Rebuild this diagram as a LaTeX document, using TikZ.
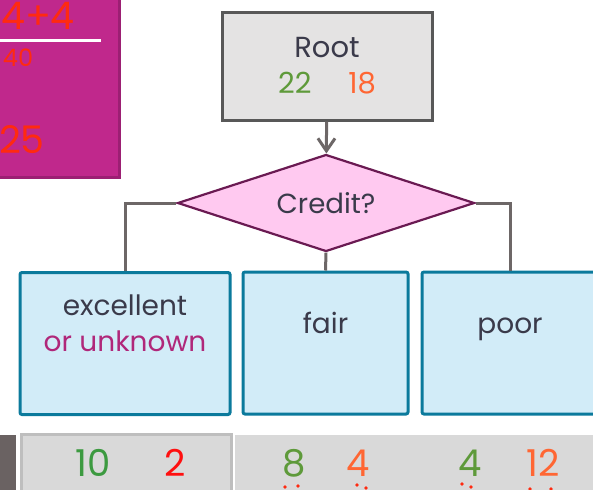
\documentclass[tikz,border=0pt]{standalone}
\usepackage{fontspec}
\setmainfont{Poppins}
\usepackage{xcolor}
\usetikzlibrary{arrows.meta,positioning,shapes.geometric}
\definecolor{NoteMagenta}{HTML}{C0288C}
\definecolor{NoteEdge}{HTML}{9C1F73}
\definecolor{InkRed}{HTML}{FF2A10}
\definecolor{RootFill}{HTML}{E4E3E3}
\definecolor{RootEdge}{HTML}{585858}
\definecolor{WireGray}{HTML}{6D6767}
\definecolor{TestFill}{HTML}{FFC9F0}
\definecolor{TestEdge}{HTML}{6A1A52}
\definecolor{LeafFill}{HTML}{D2ECF8}
\definecolor{LeafEdge}{HTML}{0B7A9C}
\definecolor{TextDark}{HTML}{3A3A4A}
\definecolor{UnkPink}{HTML}{B0277A}
\definecolor{YesGreen}{HTML}{5E9A3A}
\definecolor{NoOrange}{HTML}{FF6633}
\definecolor{CountGreen}{HTML}{3C9A40}
\definecolor{CountRed}{HTML}{FF1010}
\definecolor{CellFill}{HTML}{D9D9D9}
\definecolor{CellEdge}{HTML}{BEBEBE}
\definecolor{StripGray}{HTML}{6A6262}
\tikzset{
  rootbox/.style={
    draw=RootEdge,
    line width=1.5pt,
    fill=RootFill,
    align=center,
    minimum width=105pt,
    minimum height=54pt,
    inner sep=0pt,
    font=\fontsize{14.5}{17}\selectfont,
    text=TextDark
  },
  testbox/.style={
    diamond,
    aspect=3,
    draw=TestEdge,
    line width=1.1pt,
    fill=TestFill,
    minimum width=148.5pt,
    minimum height=48.5pt,
    inner sep=0pt,
    font=\fontsize{13.8}{16}\selectfont,
    text=TextDark
  },
  leafbox/.style={
    draw=LeafEdge,
    line width=1.5pt,
    fill=LeafFill,
    rounded corners=1pt,
    minimum height=71pt,
    inner sep=0pt
  },
  leaftext/.style={font=\fontsize{14}{16}\selectfont, text=TextDark, inner sep=0pt, anchor=base},
  cellbox/.style={fill=CellFill, minimum height=30pt, inner sep=0pt},
  count/.style={font=\fontsize{18.5}{20}\selectfont, inner sep=0pt},
  ink/.style={text=InkRed, font=\fontsize{19}{21}\selectfont, inner sep=0pt},
  wire/.style={draw=WireGray, line width=1.5pt},
  arrowwire/.style={wire, -{Straight Barb[length=2.2mm, width=3mm]}}
}

\begin{document}
\begin{tikzpicture}[x=0.5pt, y=-0.5pt]
\useasboundingbox (0,0) rectangle (593,489);

% note pad, top left
\node[draw=NoteEdge, line width=1.5pt, fill=NoteMagenta, minimum width=61pt, minimum height=90.5pt, inner sep=0pt] (pad) at (58,87) {};
\node[ink] (padA) at (38,16) {4+4};
\node[ink, font=\fontsize{12}{14}\selectfont] (padB) at (18,58) {40};
\node[ink] (padC) at (22,140) {25};
\draw[white, line width=1.5pt] (pad.west |- 0,40) -- (101,40);

% tree
\node[rootbox] (root) at (327,66) {Root\\[1pt]{\color{YesGreen}22}\quad\ {\color{NoOrange}18}};
\node[testbox] (credit) at (326,203) {Credit?};

\node[leafbox, minimum width=105pt] (exc) at (125,343.5) {};
\node[leafbox, minimum width=82.5pt] (fair) at (325.5,343) {};
\node[leafbox, minimum width=88pt] (poor) at (510,343) {};

\node[leaftext] (excA) at (125,315) {excellent};
\node[leaftext, text=UnkPink] (excB) at (125,351) {or unknown};
\node[leaftext] (fairA) at (325.5,333) {fair};
\node[leaftext] (poorA) at (510,333) {poor};

\draw[arrowwire] (root) -- (credit);
\draw[wire] (credit.west) -| (exc.north);
\draw[wire] (credit.south) -- (fair.north);
\draw[wire] (credit.east) -| (poor.north);

% counts row
\node[fill=StripGray, minimum width=8pt, minimum height=30pt, inner sep=0pt] (strip) at (8,465) {};
\node[cellbox, draw=CellEdge, line width=1.5pt, minimum width=105pt] (cellA) at (126,464) {};
\node[cellbox, minimum width=91pt] (cellB) at (325.5,465) {};
\node[cellbox, minimum width=88pt] (cellC) at (505,465) {};

\node[count, text=CountGreen] (nA1) at (93,463) {10};
\node[count, text=CountRed] (nA2) at (175,463) {2};
\node[count, text=YesGreen] (nB1) at (294,463) {8};
\node[count, text=NoOrange] (nB2) at (358,463) {4};
\node[count, text=YesGreen] (nC1) at (470,463) {4};
\node[count, text=NoOrange] (nC2) at (543,463) {12};

% red ticks under the counts
\foreach \px/\py in {285/487, 298/486, 357/485, 366/488, 462/484, 471/487, 530/489, 551/489}
  \fill[InkRed] (\px,\py) circle (1.8);
\end{tikzpicture}
\end{document}
